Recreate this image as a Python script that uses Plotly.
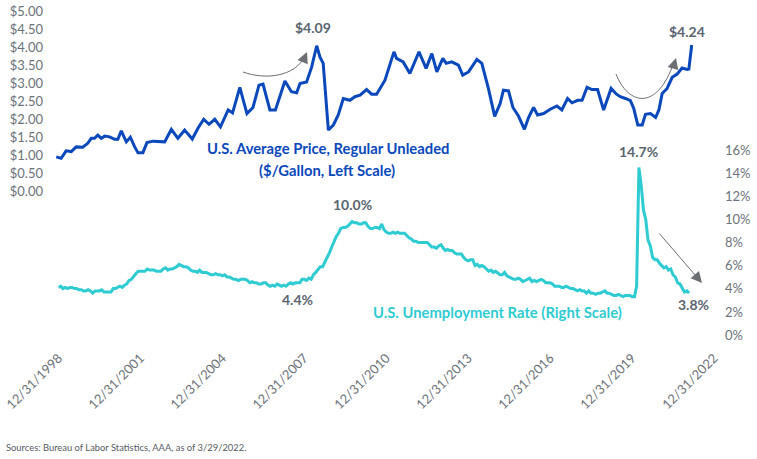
import plotly.graph_objects as go
import pandas as pd

# ---------------- data ----------------
gas_dates = [
    "1998-12-01", "1999-02-05", "1999-04-12", "1999-06-20", "1999-08-25", "1999-11-20",
    "2000-01-26", "2000-03-13", "2000-04-26", "2000-06-09", "2000-07-26", "2000-09-09", "2000-11-14",
    "2001-01-19", "2001-03-04", "2001-04-19", "2001-06-25", "2001-08-18", "2001-10-15", "2001-11-28",
    "2002-02-02", "2002-03-28", "2002-06-16", "2002-09-13", "2002-11-20",
    "2003-02-17", "2003-05-16", "2003-08-14", "2003-11-24",
    "2004-02-08", "2004-04-25", "2004-07-05", "2004-09-20", "2004-12-05",
    "2005-03-18", "2005-05-16", "2005-08-21", "2005-11-24",
    "2006-02-13", "2006-05-04", "2006-06-27", "2006-09-27", "2006-12-10",
    "2007-04-16", "2007-07-12", "2007-09-20", "2007-11-04",
    "2008-01-31", "2008-04-08", "2008-06-14", "2008-07-27", "2008-09-09", "2008-11-17",
    "2009-01-23", "2009-03-29", "2009-06-05", "2009-09-01", "2009-11-07",
    "2010-01-15", "2010-04-12", "2010-06-19", "2010-08-24", "2010-12-14",
    "2011-04-13", "2011-05-18", "2011-08-14", "2011-11-12",
    "2012-03-13", "2012-06-16", "2012-09-01", "2012-11-07",
    "2013-01-26", "2013-03-11", "2013-05-26", "2013-08-22", "2013-10-19",
    "2014-01-04", "2014-04-26", "2014-07-01", "2014-09-27", "2014-12-20",
    "2015-03-03", "2015-04-16", "2015-06-23", "2015-08-21", "2015-11-03",
    "2016-01-22", "2016-03-17", "2016-05-23", "2016-07-16", "2016-10-04",
    "2017-01-01", "2017-03-31", "2017-06-05", "2017-08-21", "2017-10-19",
    "2018-01-03", "2018-03-03", "2018-05-08", "2018-07-13", "2018-09-26", "2018-12-16",
    "2019-03-26", "2019-06-06", "2019-07-27", "2019-10-04", "2019-12-09",
    "2020-01-23", "2020-03-17", "2020-05-15", "2020-06-28", "2020-09-02", "2020-11-10", "2020-12-24",
    "2021-02-06", "2021-04-13", "2021-06-20", "2021-08-25", "2021-10-30",
    "2022-01-07", "2022-01-29", "2022-03-08",
]
gas_values = [
    0.95, 0.91, 1.12, 1.10, 1.23, 1.22,
    1.33, 1.47, 1.47, 1.56, 1.47, 1.53, 1.51,
    1.44, 1.44, 1.68, 1.37, 1.50, 1.23, 1.07,
    1.07, 1.35, 1.39, 1.39, 1.37,
    1.72, 1.47, 1.70, 1.45,
    1.75, 2.00, 1.86, 2.00, 1.79,
    2.26, 2.18, 2.89, 2.16,
    2.33, 2.95, 2.98, 2.26, 2.26,
    3.07, 2.77, 2.74, 3.00,
    3.04, 3.46, 4.05, 3.74, 3.56, 1.70,
    1.84, 2.12, 2.58, 2.53, 2.63,
    2.67, 2.83, 2.70, 2.70, 3.09,
    3.88, 3.70, 3.60, 3.28,
    3.88, 3.42, 3.83, 3.32,
    3.70, 3.56, 3.60, 3.51, 3.23,
    3.32, 3.67, 3.56, 2.86, 2.08,
    2.44, 2.81, 2.79, 2.33, 2.09,
    1.72, 2.05, 2.33, 2.12, 2.16,
    2.28, 2.37, 2.26, 2.58, 2.46,
    2.53, 2.53, 2.89, 2.83, 2.83, 2.26,
    2.86, 2.70, 2.63, 2.58, 2.52,
    2.30, 1.84, 1.84, 2.14, 2.16, 2.05, 2.26,
    2.72, 2.86, 3.17, 3.26, 3.43,
    3.39, 3.40, 4.07,
]

unemp_start = "1999-01-01"
unemp_values = [
    4.3, 4.4, 4.2, 4.3, 4.2, 4.3, 4.3, 4.2, 4.2, 4.1, 4.1, 4.0,
    4.0, 4.1, 4.0, 3.8, 4.0, 4.0, 4.0, 4.1, 3.9, 3.9, 3.9, 3.9,
    4.2, 4.2, 4.3, 4.4, 4.3, 4.5, 4.6, 4.9, 5.0, 5.3, 5.5, 5.7,
    5.7, 5.7, 5.7, 5.9, 5.8, 5.8, 5.8, 5.7, 5.7, 5.7, 5.9, 6.0,
    5.8, 5.9, 5.9, 6.0, 6.1, 6.3, 6.2, 6.1, 6.1, 6.0, 5.8, 5.7,
    5.7, 5.6, 5.8, 5.6, 5.6, 5.6, 5.5, 5.4, 5.4, 5.5, 5.4, 5.4,
    5.3, 5.4, 5.2, 5.2, 5.1, 5.0, 5.0, 4.9, 5.0, 5.0, 5.0, 4.9,
    4.7, 4.8, 4.7, 4.7, 4.6, 4.6, 4.7, 4.7, 4.5, 4.4, 4.5, 4.4,
    4.6, 4.5, 4.4, 4.5, 4.4, 4.6, 4.7, 4.6, 4.7, 4.7, 4.7, 5.0,
    5.0, 4.9, 5.1, 5.0, 5.4, 5.6, 5.8, 6.1, 6.1, 6.5, 6.8, 7.3,
    7.8, 8.3, 8.7, 9.0, 9.4, 9.5, 9.5, 9.6, 9.8, 10.0, 9.9, 9.9,
    9.8, 9.8, 9.9, 9.9, 9.6, 9.4, 9.4, 9.5, 9.5, 9.4, 9.8, 9.3,
    9.1, 9.0, 9.0, 9.1, 9.0, 9.1, 9.0, 9.0, 9.0, 8.8, 8.6, 8.5,
    8.3, 8.3, 8.2, 8.2, 8.2, 8.2, 8.2, 8.0, 7.8, 7.8, 7.7, 7.9,
    8.0, 7.7, 7.5, 7.6, 7.5, 7.5, 7.3, 7.2, 7.2, 7.2, 6.9, 6.7,
    6.6, 6.7, 6.7, 6.2, 6.3, 6.1, 6.2, 6.1, 5.9, 5.7, 5.8, 5.6,
    5.7, 5.5, 5.4, 5.4, 5.6, 5.3, 5.2, 5.1, 5.0, 5.0, 5.1, 5.0,
    4.8, 4.9, 5.0, 5.1, 4.8, 4.9, 4.8, 4.9, 5.0, 4.9, 4.7, 4.7,
    4.7, 4.6, 4.4, 4.4, 4.4, 4.3, 4.3, 4.4, 4.3, 4.2, 4.2, 4.1,
    4.0, 4.1, 4.0, 4.0, 3.8, 4.0, 3.8, 3.8, 3.7, 3.8, 3.8, 3.9,
    4.0, 3.8, 3.8, 3.7, 3.6, 3.6, 3.7, 3.6, 3.5, 3.6, 3.6, 3.6,
    3.5, 3.5, 4.4, 14.7, 13.2, 11.0, 10.2, 8.4, 7.9, 6.9, 6.7, 6.7,
    6.4, 6.2, 6.0, 6.1, 5.8, 5.9, 5.4, 5.2, 4.7, 4.6, 4.2, 3.9,
    4.0, 3.8,
]
unemp_dates = pd.date_range(unemp_start, periods=len(unemp_values), freq="MS")

x_tick_dates = ["1998-12-31", "2001-12-31", "2004-12-31", "2007-12-31", "2010-12-31",
                "2013-12-31", "2016-12-31", "2019-12-31", "2022-12-31"]
x_tick_labels = ["12/31/1998", "12/31/2001", "12/31/2004", "12/31/2007", "12/31/2010",
                 "12/31/2013", "12/31/2016", "12/31/2019", "12/31/2022"]
price_ticks = [0, 0.5, 1.0, 1.5, 2.0, 2.5, 3.0, 3.5, 4.0, 4.5, 5.0]
price_labels = ["$%.2f" % v for v in price_ticks]
rate_ticks = [0, 2, 4, 6, 8, 10, 12, 14, 16]
rate_labels = ["%d%%" % v for v in rate_ticks]

# ---------------- styles ----------------
W, H = 757, 459
L, R, T, B = 54, 43, 11, 122
PW, PH = W - L - R, H - T - B
BOTTOM = H - B  # pixel row of plot bottom (337)
BLUE = "#0a48bb"
TEAL = "#2ecbd2"
DARK = "#5a6570"
TICK = "#6b7279"
FONT = "Lato"


def px(xp):
    return (xp - L) / PW


def py(yp):
    return (BOTTOM - yp) / PH


fig = go.Figure()
fig.add_trace(go.Scatter(x=gas_dates, y=gas_values, mode="lines",
                         line=dict(color=BLUE, width=3), yaxis="y", showlegend=False))
fig.add_trace(go.Scatter(x=unemp_dates, y=unemp_values, mode="lines",
                         line=dict(color=TEAL, width=3), yaxis="y2", showlegend=False))

annotations = []


def label(text, xp, yp, color, size=14, bold=True):
    annotations.append(dict(
        text=("<b>%s</b>" % text) if bold else text, xref="paper", yref="paper",
        x=px(xp), y=py(yp), xanchor="center", yanchor="middle", showarrow=False,
        font=dict(family=FONT, size=size, color=color)))


label("$4.09", 313, 27, DARK)
label("$4.24", 687, 32, DARK)
label("U.S. Average Price, Regular Unleaded", 328, 148, BLUE, 14.8)
label("($/Gallon, Left Scale)", 327, 170, BLUE, 14.8)
label("14.7%", 638, 151, DARK)
label("10.0%", 352, 204, DARK)
label("4.4%", 297, 299, DARK)
label("3.8%", 693, 304, DARK)
label("U.S. Unemployment Rate (Right Scale)", 497, 312, TEAL, 14.8)

ARROW = "#6b6f73"


def head(xp, yp, ax, ay):
    annotations.append(dict(
        text="", xref="paper", yref="paper", x=px(xp), y=py(yp), ax=ax, ay=ay,
        showarrow=True, arrowhead=2, arrowsize=2.2, arrowwidth=1, arrowcolor=ARROW,
        standoff=0, startstandoff=0))


head(307, 52, -3, 7)
head(676, 58, -2, 7)
head(702, 283, -44, -51)

shapes = []


def curve(pts):
    p = "M %f,%f C %f,%f %f,%f %f,%f" % tuple(
        v for (a, b) in pts for v in (px(a), py(b)))
    shapes.append(dict(type="path", path=p, xref="paper", yref="paper",
                       line=dict(color=ARROW, width=1)))


curve([(243, 72), (265, 80), (295, 77), (305, 56)])
curve([(616, 74), (628, 105), (657, 112), (674, 62)])

annotations.append(dict(
    text="Sources: Bureau of Labor Statistics, AAA, as of 3/29/2022.",
    xref="paper", yref="paper", x=px(4), y=py(447), xanchor="left", yanchor="middle",
    showarrow=False, font=dict(family=FONT, size=9.4, color="#555b61")))

# left axis: $0 at y=191, $5 at y=11.7
p_per = (191 - 11.7) / 5.0
y_lo = -(BOTTOM - 191) / p_per
y_hi = 5 + (11.7 - T) / p_per
# right axis: labels 0% at y=335 and 16% at y=150.5; the line sits ~2px below the labels
r_per = (335 - 150.5) / 16.0
r_hi = (BOTTOM - T) / r_per
label_lift = BOTTOM - 335

fig.update_layout(
    width=W, height=H,
    margin=dict(l=L, r=R, t=T, b=B, autoexpand=False),
    paper_bgcolor="white", plot_bgcolor="white",
    font=dict(family=FONT, size=13, color=TICK),
    showlegend=False,
    xaxis=dict(type="date", range=["1998-11-01", "2022-12-31"], automargin=False,
               tickvals=x_tick_dates, ticktext=x_tick_labels, tickangle=-45,
               showgrid=False, zeroline=False, showline=False, ticks="",
               ticklabelstandoff=10, tickfont=dict(size=13, color=TICK)),
    yaxis=dict(range=[y_lo, y_hi], tickvals=price_ticks, ticktext=price_labels,
               automargin=False,
               showgrid=False, zeroline=False, showline=False, ticks="",
               ticklabelstandoff=10, tickfont=dict(size=13, color=TICK)),
    yaxis2=dict(range=[0, r_hi], tickvals=rate_ticks, ticktext=rate_labels,
                overlaying="y", side="right", anchor="x", automargin=False,
                showgrid=False, zeroline=False, showline=False, ticks="",
                ticklabelstandoff=10, ticklabelshift=-label_lift,
                tickfont=dict(size=13, color=TICK)),
    annotations=annotations,
    shapes=shapes,
)

fig.write_html("out.html")
